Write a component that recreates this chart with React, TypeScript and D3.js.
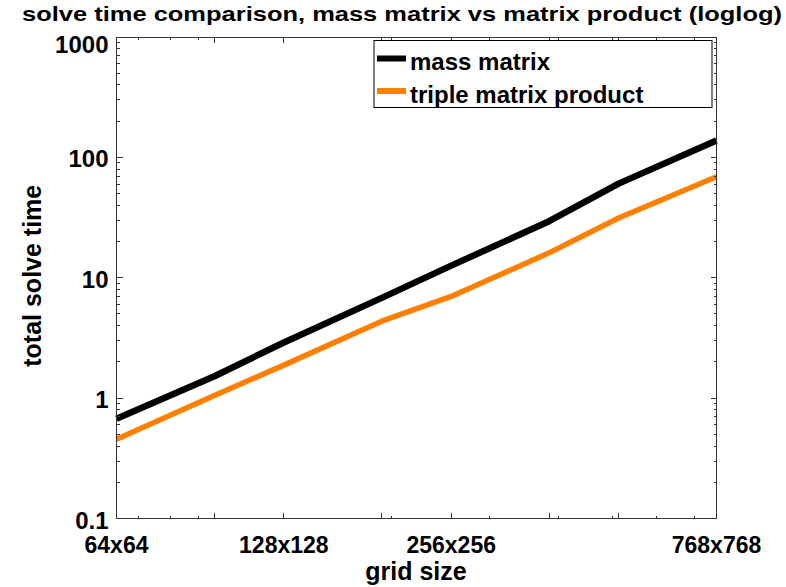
import React from "react";
import * as d3 from "d3";

// grid sizes (n for an n x n grid)
const gridSizes = [64, 96, 128, 192, 256, 384, 512, 768];
// total solve time, mass matrix approach
const massMatrix = [0.675, 1.52, 2.9, 6.8, 12.6, 29.5, 60.5, 138];
// total solve time, triple matrix product approach
const tripleProduct = [0.455, 1.05, 1.88, 4.36, 7.0, 16.1, 31.4, 69];

const xTickValues = [64, 128, 256, 768];
const xTickLabels = ["64x64", "128x128", "256x256", "768x768"];
const xMajorTicks = [64, 96, 128, 192, 256, 384, 512, 768];
const xMinorTicks = [70, 80, 90, 200, 300, 400, 500, 600, 700];
const yTickValues = [0.1, 1, 10, 100, 1000];
const yTickLabels = ["0.1", "1", "10", "100", "1000"];

const seriesNames = ["mass matrix", "triple matrix product"];
const seriesColors = ["#000000", "#ff8000"];

const W = 786;
const H = 587;
const left = 116.5;
const right = 716.5;
const top = 37;
const bottom = 518.5;
const font = "'Liberation Sans', Arial, Helvetica, sans-serif";

export default function App() {
  const x = d3.scaleLog().domain([64, 768]).range([left, right]);
  const y = d3.scaleLog().domain([0.1, 1000]).range([bottom, top]);

  const yMinor: number[] = [];
  for (let e = -1; e < 3; e++) {
    for (let k = 2; k <= 9; k++) yMinor.push(k * Math.pow(10, e));
  }

  const line = d3
    .line<number>()
    .x((_, i) => x(gridSizes[i]))
    .y((d) => y(d));

  const axisColor = "#333";
  const major = 6;
  const minor = 3;

  return (
    <svg
      width={W}
      height={H}
      style={{ position: "absolute", left: 0, top: 0, background: "#fff" }}
      fontFamily={font}
      fontWeight="bold"
    >
      <rect x={0} y={0} width={W} height={H} fill="#fff" />

      {/* series */}
      <g fill="none" strokeLinejoin="round">
        <path d={line(massMatrix) || ""} stroke={seriesColors[0]} strokeWidth={6.5} />
        <path d={line(tripleProduct) || ""} stroke={seriesColors[1]} strokeWidth={5.5} />
      </g>

      {/* axes box and ticks */}
      <g stroke={axisColor} strokeWidth={1} shapeRendering="crispEdges">
        <rect x={left} y={top} width={right - left} height={bottom - top} fill="none" />
        {xMajorTicks.map((t) => (
          <g key={"xm" + t}>
            <line x1={x(t)} x2={x(t)} y1={bottom} y2={bottom - major} />
            <line x1={x(t)} x2={x(t)} y1={top} y2={top + major} />
          </g>
        ))}
        {xMinorTicks.map((t) => (
          <g key={"xn" + t}>
            <line x1={x(t)} x2={x(t)} y1={bottom} y2={bottom - minor} />
            <line x1={x(t)} x2={x(t)} y1={top} y2={top + minor} />
          </g>
        ))}
        {yTickValues.map((t) => (
          <g key={"ym" + t}>
            <line x1={left} x2={left + major} y1={y(t)} y2={y(t)} />
            <line x1={right} x2={right - major} y1={y(t)} y2={y(t)} />
          </g>
        ))}
        {yMinor.map((t) => (
          <g key={"yn" + t}>
            <line x1={left} x2={left + minor} y1={y(t)} y2={y(t)} />
            <line x1={right} x2={right - minor} y1={y(t)} y2={y(t)} />
          </g>
        ))}
      </g>

      {/* tick labels */}
      <g fill="#000">
        {xTickValues.map((t, i) => (
          <text key={"xl" + t} x={x(t)} y={bottom + 34} fontSize={23} textAnchor="middle">
            {xTickLabels[i]}
          </text>
        ))}
        {yTickValues.map((t, i) => (
          <text
            key={"yl" + t}
            x={left - 8}
            y={y(t) + (t === 1000 ? 16 : 10)}
            fontSize={24}
            textAnchor="end"
          >
            {yTickLabels[i]}
          </text>
        ))}
      </g>

      {/* legend */}
      <g>
        <rect x={374} y={40.5} width={338} height={67} fill="#fff" stroke="#000" strokeWidth={1} />
        {seriesNames.map((name, i) => (
          <g key={name}>
            <line
              x1={377}
              x2={406}
              y1={58.5 + i * 32.5}
              y2={58.5 + i * 32.5}
              stroke={seriesColors[i]}
              strokeWidth={6}
            />
            <text x={410} y={70 + i * 32.5} fontSize={24} fill="#000">
              {name}
            </text>
          </g>
        ))}
      </g>

      {/* titles */}
      <text
        x={22}
        y={21}
        fontSize={21}
        textLength={760}
        lengthAdjust="spacingAndGlyphs"
        fill="#000"
      >
        solve time comparison, mass matrix vs matrix product (loglog)
      </text>
      <text x={416} y={580} fontSize={25} textAnchor="middle" fill="#000">
        grid size
      </text>
      <text
        transform={`translate(41, ${(top + bottom) / 2 - 2}) rotate(-90)`}
        fontSize={25}
        textAnchor="middle"
        fill="#000"
      >
        total solve time
      </text>
    </svg>
  );
}
